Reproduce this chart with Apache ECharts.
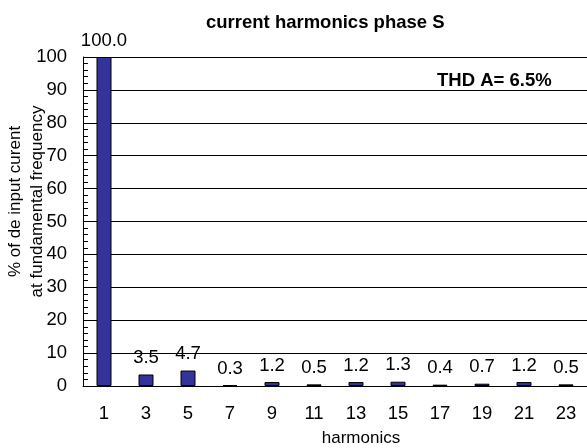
<!DOCTYPE html>
<html>
<head>
<meta charset="utf-8">
<script src="https://cdn.jsdelivr.net/npm/echarts@6/dist/echarts.min.js"></script>
<style>
  html, body { margin: 0; padding: 0; background: #fff; }
  #chart { width: 587px; height: 448px; }
</style>
</head>
<body>
<div id="chart"></div>
<script>
// harmonic orders and % of fundamental
const harmonics = ['1', '3', '5', '7', '9', '11', '13', '15', '17', '19', '21', '23']
const currentPct = [100.0, 3.5, 4.7, 0.3, 1.2, 0.5, 1.2, 1.3, 0.4, 0.7, 1.2, 0.5]
const thdText = 'THD A= 6.5%'

const font = 'Liberation Sans, Arial, sans-serif'
const chart = echarts.init(document.getElementById('chart'))

chart.setOption({
  animation: false,
  title: [{
    text: 'current harmonics phase S',
    left: 201,
    top: 8,
    textStyle: { fontFamily: font, fontSize: 18.5, fontWeight: 'bold', color: '#000' }
  }, {
    text: thdText,
    left: 432,
    top: 66,
    textStyle: { fontFamily: font, fontSize: 18.5, fontWeight: 'bold', color: '#000' }
  }],
  grid: {
    left: 83,
    right: 0,
    top: 57,
    bottom: 62,
    containLabel: false,
    outerBoundsMode: 'none'
  },
  xAxis: [{
    type: 'category',
    data: harmonics,
    position: 'bottom',
    name: 'harmonics',
    nameLocation: 'middle',
    nameGap: 44,
    nameMoveOverlap: false,
    nameTextStyle: { fontFamily: font, fontSize: 17, color: '#000', padding: [0, 0, 0, 52] },
    axisLine: { lineStyle: { color: '#000', width: 1 } },
    axisTick: { inside: true, length: 5, lineStyle: { color: '#000' } },
    axisLabel: { fontFamily: font, fontSize: 18.5, color: '#000', margin: 18 }
  }, {
    // centre ticks drawn over the bars
    type: 'category',
    data: harmonics,
    position: 'bottom',
    z: 5,
    axisLine: { show: false },
    axisTick: { inside: true, alignWithLabel: true, length: 4, lineStyle: { color: '#000' } },
    axisLabel: { show: false }
  }],
  yAxis: {
    type: 'value',
    min: 0,
    max: 100,
    interval: 10,
    name: '% of de input curent\nat fundamental frequency',
    nameLocation: 'middle',
    nameGap: 35,
    nameMoveOverlap: false,
    nameTextStyle: { fontFamily: font, fontSize: 17, color: '#000', lineHeight: 22, padding: [0, 0, 0, 40] },
    axisLine: { show: true, lineStyle: { color: '#000', width: 1 } },
    axisTick: { show: true, inside: true, length: 5, lineStyle: { color: '#000' } },
    minorTick: { show: true, splitNumber: 5, length: 5, lineStyle: { color: '#000' } },
    axisLabel: { fontFamily: font, fontSize: 18.5, color: '#000', margin: 16 },
    splitLine: { show: true, lineStyle: { color: '#000', width: 1 } }
  },
  series: [{
    type: 'bar',
    data: currentPct,
    barWidth: 15,
    itemStyle: { color: '#333399', borderColor: '#000', borderWidth: 1 },
    label: {
      show: true,
      position: 'top',
      distance: 7,
      fontFamily: font,
      fontSize: 18.5,
      color: '#000',
      formatter: p => p.value.toFixed(1)
    }
  }]
})
</script>
</body>
</html>
